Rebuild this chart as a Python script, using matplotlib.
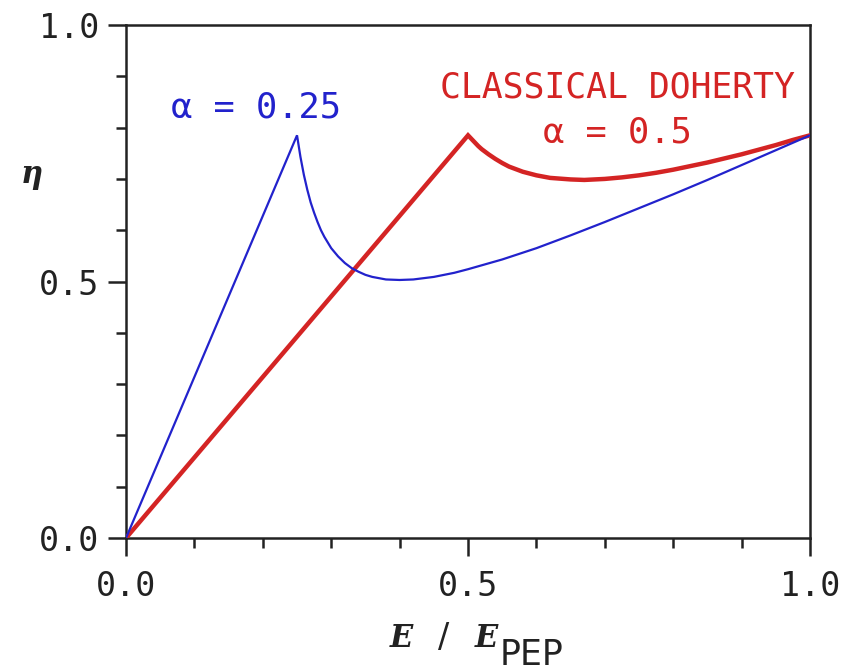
import matplotlib
matplotlib.use('Agg')
import matplotlib.pyplot as plt
from matplotlib.ticker import MultipleLocator

# Efficiency curves
# alpha = 0.25 (blue)
x_a25 = [0.0, 0.25, 0.255, 0.26, 0.265, 0.27, 0.275, 0.28, 0.285, 0.29, 0.295, 0.30,
         0.31, 0.32, 0.33, 0.34, 0.35, 0.36, 0.38, 0.40, 0.42, 0.45, 0.48, 0.50,
         0.55, 0.60, 0.65, 0.70, 0.75, 0.80, 0.85, 0.90, 0.95, 1.0]
eta_a25 = [0.0, 0.785, 0.743, 0.708, 0.679, 0.654, 0.634, 0.616, 0.600, 0.587, 0.576, 0.565,
           0.549, 0.536, 0.526, 0.519, 0.513, 0.509, 0.504, 0.503, 0.504, 0.509, 0.517, 0.524,
           0.543, 0.565, 0.590, 0.616, 0.643, 0.670, 0.698, 0.727, 0.756, 0.785]

# alpha = 0.5, classical Doherty (red)
x_a50 = [0.0, 0.50, 0.505, 0.51, 0.515, 0.52, 0.525, 0.53, 0.54, 0.55, 0.56, 0.57,
         0.58, 0.60, 0.62, 0.65, 0.67, 0.70, 0.725, 0.75, 0.775, 0.80, 0.825, 0.85,
         0.875, 0.90, 0.925, 0.95, 0.975, 1.0]
eta_a50 = [0.0, 0.785, 0.778, 0.771, 0.764, 0.758, 0.753, 0.748, 0.739, 0.731, 0.724, 0.719,
           0.714, 0.707, 0.702, 0.699, 0.698, 0.700, 0.703, 0.707, 0.712, 0.718, 0.725, 0.732,
           0.740, 0.748, 0.757, 0.766, 0.776, 0.785]

xticks = [0.0, 0.5, 1.0]
yticks = [0.0, 0.5, 1.0]
tick_labels = ['0.0', '0.5', '1.0']

blue = '#2222cc'
red = '#d42424'
ink = '#222222'
mono = 'DejaVu Sans Mono'

fig = plt.figure(figsize=(8.59, 6.71), dpi=100)
ax = fig.add_axes([0.1467, 0.1982, 0.7963, 0.7645])

ax.plot(x_a50, eta_a50, color=red, lw=3.2, solid_joinstyle='miter', zorder=3)
ax.plot(x_a25, eta_a25, color=blue, lw=1.6, solid_joinstyle='miter', zorder=4)

ax.set_xlim(0, 1)
ax.set_ylim(0, 1)

ax.set_xticks(xticks)
ax.set_xticklabels(tick_labels)
ax.set_yticks(yticks)
ax.set_yticklabels(tick_labels)
ax.xaxis.set_minor_locator(MultipleLocator(0.1))
ax.yaxis.set_minor_locator(MultipleLocator(0.1))

ax.tick_params(which='major', direction='out', length=13, width=1.8, color=ink)
ax.tick_params(which='minor', direction='out', length=7, width=1.8, color=ink)
ax.tick_params(axis='x', which='major', pad=10)
ax.tick_params(axis='y', which='major', pad=6)
for lab in ax.get_xticklabels() + ax.get_yticklabels():
    lab.set_fontfamily(mono)
    lab.set_fontsize(24)
    lab.set_color(ink)

for s in ax.spines.values():
    s.set_linewidth(1.8)
    s.set_color(ink)

# curve labels
ax.text(0.19, 0.84, '\u03b1 = 0.25', color=blue, family=mono, fontsize=25.5,
        ha='center', va='center')
ax.text(0.718, 0.878, 'CLASSICAL DOHERTY', color=red, family=mono, fontsize=25,
        ha='center', va='center')
ax.text(0.718, 0.79, '\u03b1 = 0.5', color=red, family=mono, fontsize=25.5,
        ha='center', va='center')

# axis labels
fig.text(32 / 859, 1 - 175 / 671, '\u03b7', family='DejaVu Serif', style='italic',
         weight='bold', fontsize=22, ha='center', va='center', color=ink)
fig.text(390 / 859, 1 - 647 / 671, 'E', family='DejaVu Serif', style='italic',
         weight='bold', fontsize=22, ha='left', va='baseline', color=ink)
fig.text(438 / 859, 1 - 647 / 671, '/', family='DejaVu Sans', fontsize=24,
         ha='left', va='baseline', color=ink)
fig.text(475 / 859, 1 - 647 / 671, 'E', family='DejaVu Serif', style='italic',
         weight='bold', fontsize=22, ha='left', va='baseline', color=ink)
fig.text(500 / 859, 1 - 665 / 671, 'PEP', family='DejaVu Sans', fontsize=25,
         ha='left', va='baseline', color=ink)

fig.savefig('out.png', dpi=100)
